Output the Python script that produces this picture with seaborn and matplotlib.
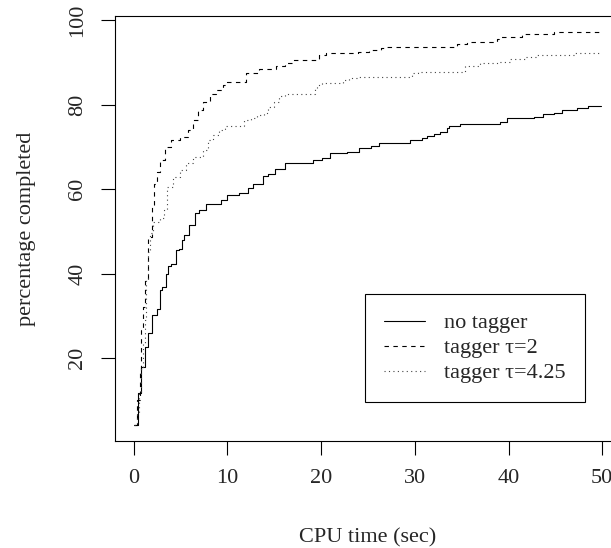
import matplotlib
matplotlib.use("Agg")
import matplotlib.pyplot as plt
import seaborn as sns

# no tagger (solid)
t_none = [0, 0.46, 0.8, 1.2, 1.5, 2.0, 2.5, 2.8, 3.05, 3.4, 3.65, 4.0, 4.5, 4.8, 5.1, 5.4,
          5.95, 6.5, 7.0, 7.75, 9.3, 10.0, 11.2,
          12.2, 12.7, 13.8, 14.3, 15.1, 16.1, 19.1, 20.1, 20.9, 22.8, 24.0, 25.3, 26.2, 29.5,
          30.8, 31.3, 32.0, 32.7, 33.4, 33.6, 34.8, 39.1, 39.8, 42.7, 43.7, 44.8, 45.7, 47.3,
          48.5, 49.9]
p_none = [4.1, 11.7, 18.0, 22.7, 25.9, 30.2, 31.6, 36.1, 36.9, 40.0, 41.8, 42.3, 45.6, 45.8, 48.0, 49.1,
          51.5, 54.3, 55.0, 56.4, 57.4, 58.6, 59.1,
          60.2, 61.3, 63.0, 63.5, 64.7, 66.1, 66.9, 67.3, 68.5, 68.8, 69.6, 70.2, 70.8, 71.6,
          72.0, 72.5, 73.0, 73.6, 74.4, 74.9, 75.4, 75.9, 76.7, 77.1, 77.7, 78.1, 78.7, 79.1,
          79.6, 79.6]

# tagger tau=2 (dashed)
t_tau2 = [0, 0.4, 0.64, 0.82, 1.0, 1.2, 1.5, 1.9, 2.2, 2.5, 2.75, 3.3, 4.0, 4.9, 5.8, 6.3, 6.85,
          7.4, 8.1, 8.8, 9.5, 10.0, 12.0, 13.4, 15.2, 16.1, 17.0, 19.8, 20.5, 23.9, 25.1, 26.4,
          26.9, 34.5, 35.6, 38.8, 39.0, 41.4, 44.8, 49.8]
p_tau2 = [4.1, 10.0, 16.4, 26.6, 32.0, 38.5, 48.7, 55.8, 61.3, 64.0, 66.9, 70.0, 71.6, 72.4, 74.0, 76.3, 78.7,
          80.7, 82.6, 83.4, 84.6, 85.4, 87.4, 88.3, 89.1, 89.9, 90.6, 91.7, 92.1, 92.5, 92.9, 93.3,
          93.7, 94.3, 94.9, 95.4, 95.9, 96.7, 97.2, 97.2]

# tagger tau=4.25 (dotted)
t_tau425 = [0, 0.3, 0.55, 0.8, 1.0, 1.2, 1.35, 1.5, 1.7, 2.05, 2.8, 3.2, 3.5, 4.2, 4.9, 5.6,
            6.3, 7.4, 7.9, 8.45, 9.15, 9.7, 11.8, 12.5, 13.2, 13.9, 14.3, 15.0, 15.5, 16.1,
            19.3, 19.6, 20.1, 22.3, 23.0, 24.0, 29.7, 30.3, 35.4, 37.0, 38.9, 40.2, 41.9, 43.0,
            47.1, 49.8]
p_tau425 = [4.1, 6.9, 12.0, 18.0, 23.5, 29.0, 38.5, 45.0, 49.5, 52.3, 53.1, 55.0, 60.5, 62.9, 64.5, 66.1,
            67.6, 69.2, 71.6, 72.8, 74.0, 74.9, 76.3, 76.7, 77.5, 77.9, 79.5, 80.7, 82.0, 82.6,
            83.8, 84.6, 85.2, 85.8, 86.2, 86.4, 87.4, 87.8, 89.1, 89.8, 90.1, 90.7, 91.2, 91.7,
            92.1, 92.1]

x_ticks = [0, 10, 20, 30, 40, 50]
y_ticks = [20, 40, 60, 80, 100]

sns.set_style("ticks")
plt.rcParams['font.family'] = ['Liberation Serif', 'DejaVu Serif']

fig = plt.figure(figsize=(6.11, 5.48), dpi=100)
ax = fig.add_axes([115 / 611, 1 - 441 / 548, 506 / 611, (441 - 16.4) / 548])

sns.lineplot(x=t_none, y=p_none, ax=ax, color="black", lw=0.8, drawstyle="steps-post",
             estimator=None, sort=False, label="no tagger")
sns.lineplot(x=t_tau2, y=p_tau2, ax=ax, color="black", lw=0.8, drawstyle="steps-post",
             estimator=None, sort=False, label="tagger \u03c4=2")
sns.lineplot(x=t_tau425, y=p_tau425, ax=ax, color="#444444", lw=0.8, drawstyle="steps-post",
             estimator=None, sort=False, label="tagger \u03c4=4.25")
ax.lines[1].set_dashes((4, 4))
ax.lines[2].set_dashes((1, 3))

ax.set_xlim(-2, 52)
ax.set_ylim(0.4, 100.85)
ax.set_xticks(x_ticks)
ax.set_yticks(y_ticks)
ax.set_yticklabels([str(v) for v in y_ticks], rotation=90, va="center")
ax.tick_params(axis="both", direction="out", length=10, width=0.8, labelsize=16, pad=10, color="black")
for s in ax.spines.values():
    s.set_linewidth(0.8)
    s.set_color("black")

ax.set_xlabel("CPU time (sec)", fontsize=16, labelpad=29)
ax.set_ylabel("percentage completed", fontsize=16, labelpad=23)

leg = ax.legend(loc="upper left", bbox_to_anchor=(365 / 611, 1 - 294 / 548),
                bbox_transform=fig.transFigure, borderaxespad=0, fontsize=16,
                handlelength=1.86, handletextpad=0.86, borderpad=0.85, labelspacing=0.2,
                fancybox=False, framealpha=1, edgecolor="black")
leg.get_frame().set_linewidth(0.8)
for h in leg.get_lines():
    h.set_linewidth(0.8)

fig.savefig("out.png", dpi=100)
